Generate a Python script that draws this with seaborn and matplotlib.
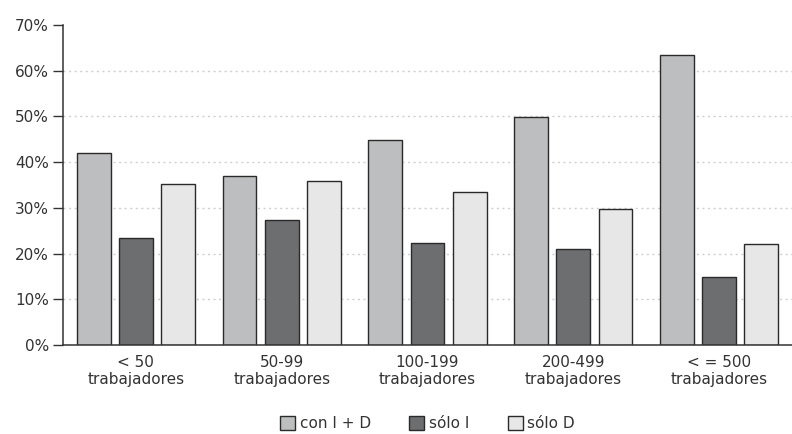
import numpy as np
import pandas as pd
import matplotlib
matplotlib.use("Agg")
import matplotlib.pyplot as plt
import seaborn as sns
from matplotlib.ticker import FixedLocator, PercentFormatter

# values (%)
groups = ["< 50\ntrabajadores", "50-99\ntrabajadores", "100-199\ntrabajadores",
          "200-499\ntrabajadores", "< = 500\ntrabajadores"]
series = ["con I + D", "sólo I", "sólo D"]
con_id = [42.0, 37.0, 44.9, 49.9, 63.5]
solo_i = [23.4, 27.4, 22.3, 21.0, 14.9]
solo_d = [35.2, 35.9, 33.5, 29.8, 22.1]
colors = ["#bdbebf", "#6d6e70", "#e6e7e6"]

df = pd.DataFrame({
    "grupo": groups * 3,
    "serie": [series[0]] * 5 + [series[1]] * 5 + [series[2]] * 5,
    "valor": con_id + solo_i + solo_d,
})

sns.set_style("white")
plt.rcParams["font.family"] = ["DejaVu Sans"]

fig = plt.figure(figsize=(7.92, 4.34), dpi=100)
ax = fig.add_axes([63 / 792, 1 - 345 / 434, 1 - 63 / 792, 320 / 434])

sns.barplot(data=df, x="grupo", y="valor", hue="serie", palette=colors,
            width=0.87, gap=0.2, edgecolor="#2a2a2a", linewidth=1.0,
            ax=ax, legend=True)

ax.set_ylim(0, 70)
ax.set_xlim(-0.5, 4.5)
ax.yaxis.set_major_locator(FixedLocator(np.arange(0, 71, 10)))
ax.yaxis.set_major_formatter(PercentFormatter(decimals=0))
for v in range(10, 70, 10):
    ax.axhline(v, color="#cfcfcf", linestyle=(0, (1.5, 2.5)), linewidth=1.0, zorder=0)
ax.set_axisbelow(True)

ax.set_xlabel("")
ax.set_ylabel("")
ax.xaxis.set_minor_locator(FixedLocator([0.5, 1.5, 2.5, 3.5, 4.5]))
ax.tick_params(axis="x", which="major", length=0, pad=7, labelsize=11, colors="#333333")
ax.tick_params(axis="x", which="minor", length=7, width=1, color="#333333", direction="out")
ax.tick_params(axis="y", length=7, width=1, color="#333333", labelsize=11,
               labelcolor="#333333", left=True, pad=3)

for s in ["top", "right"]:
    ax.spines[s].set_visible(False)
for s in ["left", "bottom"]:
    ax.spines[s].set_color("#333333")
    ax.spines[s].set_linewidth(1.1)

leg = ax.legend(loc="center", bbox_to_anchor=(0.5, -0.245),
                ncol=3, frameon=False, fontsize=11, handlelength=1.0,
                handleheight=1.0, handletextpad=0.3, columnspacing=2.5)
for t in leg.get_texts():
    t.set_color("#333333")

fig.savefig("out.png", dpi=100)
